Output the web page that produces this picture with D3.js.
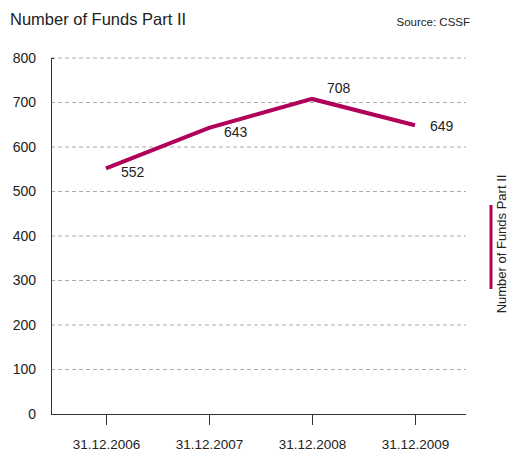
<!DOCTYPE html>
<html>
<head>
<meta charset="utf-8">
<script src="https://cdn.jsdelivr.net/npm/d3@7"></script>
<style>
  body { margin: 0; background: #fff; }
  svg { font-family: "Liberation Sans", Arial, sans-serif; }
</style>
</head>
<body>
<div id="chart"></div>
<script>
(function () {
    'use strict';

    var categories = ["31.12.2006", "31.12.2007", "31.12.2008", "31.12.2009"];
    var values = [552, 643, 708, 649];
    var yTicks = [0, 100, 200, 300, 400, 500, 600, 700, 800];
    var seriesName = "Number of Funds Part II";

    var width = 510, height = 453;
    var lineColor = "#b0005a";
    var textColor = "#222";

    var svg = d3.select("#chart").append("svg")
        .attr("width", width)
        .attr("height", height);

    // plot area
    var left = 51, right = 466, top = 58, bottom = 414;

    var x = d3.scalePoint()
        .domain(categories)
        .range([106, 415]);

    var y = d3.scaleLinear()
        .domain([0, 800])
        .range([bottom, top]);

    // title and source
    svg.append("text")
        .attr("x", 10).attr("y", 25)
        .attr("fill", textColor)
        .style("font-size", "16.5px")
        .text("Number of Funds Part II");

    svg.append("text")
        .attr("x", 470).attr("y", 26)
        .attr("text-anchor", "end")
        .attr("fill", textColor)
        .style("font-size", "11.5px")
        .text("Source: CSSF");

    // gridlines
    svg.append("g")
        .selectAll("line")
        .data(yTicks.filter(function (d) { return d > 0; }))
        .enter().append("line")
        .attr("x1", left).attr("x2", right)
        .attr("y1", function (d) { return y(d); })
        .attr("y2", function (d) { return y(d); })
        .attr("stroke", "#aaa")
        .attr("stroke-dasharray", "4,3");

    // y axis
    var yAxis = svg.append("g")
        .attr("transform", "translate(" + left + ",0)")
        .call(d3.axisLeft(y).tickValues(yTicks).tickSize(0).tickPadding(15));
    yAxis.select(".domain").attr("stroke", "#333");
    yAxis.selectAll("text")
        .attr("fill", textColor)
        .style("font-size", "14px");

    // top tick on y axis
    svg.append("line")
        .attr("x1", left).attr("x2", left + 3)
        .attr("y1", top + 0.5).attr("y2", top + 0.5)
        .attr("stroke", "#333");

    // x axis
    var xAxis = svg.append("g")
        .attr("transform", "translate(0," + bottom + ")")
        .call(d3.axisBottom(x).tickSize(11).tickPadding(14));
    xAxis.select(".domain").remove();
    xAxis.selectAll("line").attr("stroke", "#333");
    xAxis.selectAll("text")
        .attr("fill", textColor)
        .style("font-size", "13.5px");

    svg.append("line")
        .attr("x1", left).attr("x2", right)
        .attr("y1", bottom + 0.5).attr("y2", bottom + 0.5)
        .attr("stroke", "#333");

    // data line
    var line = d3.line()
        .x(function (d, i) { return x(categories[i]); })
        .y(function (d) { return y(d); });

    svg.append("path")
        .datum(values)
        .attr("fill", "none")
        .attr("stroke", lineColor)
        .attr("stroke-width", 4)
        .attr("stroke-linejoin", "miter")
        .attr("d", line);

    // value labels: the peak sits above, others to the right/below
    var peak = d3.max(values);
    svg.append("g")
        .selectAll("text")
        .data(values)
        .enter().append("text")
        .attr("x", function (d, i) { return x(categories[i]) + 15; })
        .attr("y", function (d, i) {
            if (d === peak) return y(d) - 6;
            if (i === values.length - 1) return y(d) + 6;
            return y(d) + 9;
        })
        .attr("fill", textColor)
        .style("font-size", "14px")
        .text(function (d) { return d; });

    // legend
    svg.append("line")
        .attr("x1", 491).attr("x2", 491)
        .attr("y1", 205).attr("y2", 289)
        .attr("stroke", lineColor)
        .attr("stroke-width", 3);

    svg.append("text")
        .attr("transform", "translate(506,244) rotate(-90)")
        .attr("text-anchor", "middle")
        .attr("fill", textColor)
        .style("font-size", "13px")
        .text(seriesName);
})();
</script>
</body>
</html>
